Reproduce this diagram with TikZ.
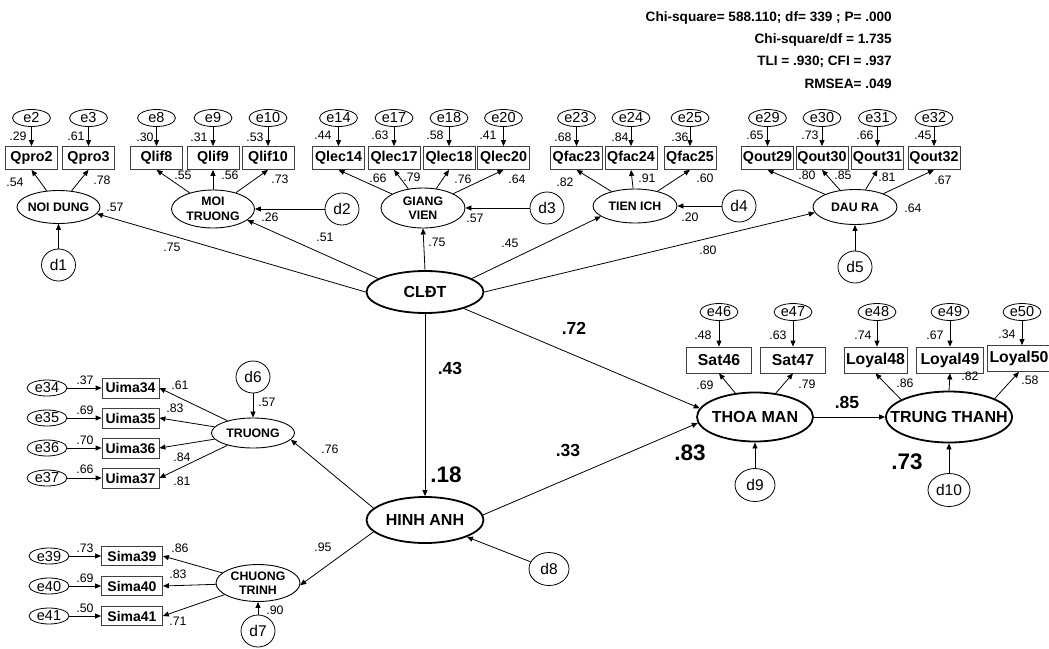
\documentclass[tikz,border=0pt]{standalone}
\usepackage{fontspec}
\setmainfont{Liberation Sans}
\usetikzlibrary{shapes.geometric,arrows.meta}
\newcommand{\fsz}[1]{\fontsize{#1}{#1}\selectfont}
\begin{document}
\begin{tikzpicture}[x=1pt,y=-1pt,
  con/.style={-{Triangle[length=6pt,width=5pt]},line width=0.8pt},
  evar/.style={ellipse,draw,line width=0.8pt,minimum width=38,minimum height=17,inner sep=0,font=\fsz{14.5}},
  dvar/.style={ellipse,draw,line width=0.8pt,minimum width=34,minimum height=32,inner sep=0,font=\fsz{15.5}},
  dvarw/.style={dvar,minimum width=40,minimum height=33},
  ind/.style={draw=black!75,line width=0.8pt,inner sep=0,font=\bfseries\fsz{14.3},minimum width=52,minimum height=23},
  uind/.style={ind,font=\bfseries\fsz{14},minimum width=57,minimum height=20},
  sind/.style={ind,font=\bfseries\fsz{14},minimum width=61,minimum height=19},
  rind/.style={ind,font=\bfseries\fsz{15.8},minimum width=65,minimum height=26},
  lat/.style={ellipse,draw,line width=0.9pt,inner sep=0},
  blat/.style={ellipse,draw,line width=1.8pt,inner sep=0},
  latlbl/.style={font=\bfseries\fontsize{12.3}{14.5}\selectfont,align=center,inner sep=0},
  blatlbl/.style={font=\bfseries\fsz{16},inner sep=0},
  num/.style={font=\fsz{12.3},inner sep=0},
  pcoef/.style={font=\bfseries\fsz{17.5},inner sep=0},
  rsq/.style={font=\bfseries\fsz{22.5},inner sep=0}]
\useasboundingbox (0,0) rectangle (1049,648);

% fit statistics
\node[anchor=north east,align=right,inner sep=0,font=\bfseries\fontsize{13.6}{22.4}\selectfont] (fit) at (892,11)
  {Chi-square= 588.110; df= 339 ; P= .000\\Chi-square/df = 1.735\\TLI = .930; CFI = .937\\RMSEA= .049};

% ---------- top first-order factors ----------
\node[lat,minimum width=83,minimum height=33,label={[latlbl]center:NOI DUNG}] (nd) at (58.5,207) {};
\node[lat,minimum width=83,minimum height=38,label={[latlbl]center:MOI\\TRUONG}] (moi) at (213,209) {};
\node[lat,minimum width=84,minimum height=40,label={[latlbl]center:GIANG\\VIEN}] (gv) at (423,208) {};
\node[lat,minimum width=84,minimum height=34,label={[latlbl]center:TIEN ICH}] (ti) at (635,206) {};
\node[lat,minimum width=84,minimum height=35,label={[latlbl]center:DAU RA}] (dr) at (855,207) {};

\foreach \n/\t/\x in {qpro2/Qpro2/31.5, qpro3/Qpro3/88.5, qlif8/Qlif8/156.5, qlif9/Qlif9/213, qlif10/Qlif10/268,
  qlec14/Qlec14/338.5, qlec17/Qlec17/394, qlec18/Qlec18/449, qlec20/Qlec20/503.5,
  qfac23/Qfac23/576.5, qfac24/Qfac24/631, qfac25/Qfac25/690,
  qout29/Qout29/767.5, qout30/Qout30/822, qout31/Qout31/877.5, qout32/Qout32/934}
  \node[ind] (\n) at (\x,158) {\t};

\foreach \n/\x in {e2/31.5, e3/88.5, e8/156.5, e9/213, e10/268, e14/338.5, e17/394, e18/449, e20/503.5,
  e23/576.5, e24/631, e25/690, e29/767.5, e30/822, e31/877.5, e32/934}
  \node[evar] (\n) at (\x,118) {\n};

\node[dvar] (d1) at (58.5,265) {d1};
\node[dvar] (d2) at (342,209) {d2};
\node[dvar] (d3) at (547,208) {d3};
\node[dvar] (d4) at (739,206) {d4};
\node[dvar] (d5) at (855,267) {d5};

% ---------- second-order and structural ----------
\node[blat,minimum width=117,minimum height=42,label={[blatlbl]center:CLĐT}] (cldt) at (425,292) {};
\node[blat,minimum width=117,minimum height=46,label={[blatlbl]center:HINH ANH}] (ha) at (425,520) {};
\node[blat,minimum width=116,minimum height=49,label={[blatlbl]center:THOA MAN}] (thoa) at (755,417) {};
\node[blat,minimum width=126,minimum height=51,label={[blatlbl]center:TRUNG THANH}] (tt) at (949,417) {};
\node[dvarw] (d8) at (549,569) {d8};
\node[dvarw] (d9) at (755,485) {d9};
\node[dvarw,minimum width=42] (d10) at (949,490) {d10};

% ---------- right indicators ----------
\node[rind] (sat46) at (719,360) {Sat46};
\node[rind] (sat47) at (793,360) {Sat47};
\node[rind,minimum width=63] (loyal48) at (875.5,360) {Loyal48};
\node[rind,minimum width=67] (loyal49) at (950,360) {Loyal49};
\node[rind,minimum width=64] (loyal50) at (1019,358.5) {Loyal50};
\foreach \n/\x in {e46/719, e47/793, e48/877, e49/950, e50/1022}
  \node[evar] (\n) at (\x,312) {\n};

% ---------- left second-level factors ----------
\node[lat,minimum width=83,minimum height=30,label={[latlbl]center:TRUONG}] (tr) at (253,433) {};
\node[lat,minimum width=84,minimum height=37,label={[latlbl]center:CHUONG\\TRINH}] (ct) at (258,583) {};
\node[dvar] (d6) at (253,377) {d6};
\node[dvar] (d7) at (258,631) {d7};
\foreach \n/\t/\y in {uima34/Uima34/388, uima35/Uima35/418, uima36/Uima36/448, uima37/Uima37/478}
  \node[uind] (\n) at (130.5,\y) {\t};
\foreach \n/\t/\y in {sima39/Sima39/556, sima40/Sima40/586, sima41/Sima41/616}
  \node[sind] (\n) at (132,\y) {\t};
\foreach \n/\y in {e34/388, e35/418, e36/448, e37/478}
  \node[evar,minimum width=40,minimum height=16] (\n) at (47,\y) {\n};
\foreach \n/\y in {e39/556, e40/586, e41/616}
  \node[evar,minimum width=40,minimum height=16] (\n) at (49,\y) {\n};

% ---------- connectors ----------
\foreach \e/\b in {e2/qpro2, e3/qpro3, e8/qlif8, e9/qlif9, e10/qlif10, e14/qlec14, e17/qlec17, e18/qlec18, e20/qlec20,
  e23/qfac23, e24/qfac24, e25/qfac25, e29/qout29, e30/qout30, e31/qout31, e32/qout32,
  e46/sat46, e47/sat47, e48/loyal48, e49/loyal49, e50/loyal50}
  \draw[con] (\e) -- (\e |- \b.north);
\foreach \l/\b in {nd/qpro2, nd/qpro3, moi/qlif8, moi/qlif9, moi/qlif10, gv/qlec14, gv/qlec17, gv/qlec18, gv/qlec20,
  ti/qfac23, ti/qfac24, ti/qfac25, dr/qout29, dr/qout30, dr/qout31, dr/qout32, thoa/sat46, thoa/sat47}
  \draw[con] (\l) -- (\b.south);
\draw[con] (tt.160) -- (loyal48.south);
\draw[con] (tt.north) -- (loyal49.south);
\draw[con] (tt.22) -- (loyal50.south);

\draw[con] (d1) -- (nd);
\draw[con] (d2) -- (moi);
\draw[con] (d3) -- (gv);
\draw[con] (d4) -- (ti);
\draw[con] (d5) -- (dr);
\draw[con] (d6) -- (tr);
\draw[con] (d7) -- (ct);
\draw[con] (d8) -- (ha.-22);
\draw[con] (d9) -- (thoa);
\draw[con] (d10) -- (tt);

\draw[con] (cldt.west) -- (nd.-10);
\draw[con] (cldt.164) -- (moi.-18);
\draw[con] (cldt.north) -- (gv.south);
\draw[con] (cldt.16) -- (ti.197);
\draw[con] (cldt.east) -- (dr.188);
\draw[con] (cldt.south) -- (ha.north);
\draw[con] (cldt.-23) -- (thoa.171);
\draw[con] (ha.5) -- (thoa.186);
\draw[con] (thoa.east) -- (tt.west);
\draw[con] (ha.167) -- (tr.-10);
\draw[con] (ha.193) -- (ct.-3);

\foreach \e/\b in {e34/uima34, e35/uima35, e36/uima36, e37/uima37, e39/sima39, e40/sima40, e41/sima41}
  \draw[con] (\e) -- (\e -| \b.west);
\foreach \b in {uima34, uima35, uima36, uima37}
  \draw[con] (tr) -- (\b.east);
\foreach \b in {sima39, sima40, sima41}
  \draw[con] (ct) -- (\b.east);

% ---------- coefficients ----------
\foreach \n/\x/\y/\t in {
  a1/18/136/.29, a2/76/136/.61, a3/145/137/.30, a4/199/137/.31, a5/255/137/.53,
  a6/323/135/.44, a7/380/135/.63, a8/435/135/.58, a9/488/135/.41,
  a10/563/137/.68, a11/620/137/.84, a12/680/137/.36,
  a13/755/135/.65, a14/810/135/.73, a15/865/135/.66, a16/923/135/.45,
  b1/15/182/.54, b2/102/180/.78, b3/183/175/.55, b4/230/175/.56, b5/280/179/.73,
  b6/378/178/.66, b7/412/177/.79, b8/463/179/.76, b9/517/179/.64,
  b10/565/182/.82, b11/647/178/.91, b12/705/178/.60,
  b13/807/175/.80, b14/843/175/.85, b15/887/177/.81, b16/943/180/.67,
  c1/115/207/.57, c2/270/217/.26, c3/475/218/.57, c4/690/217/.20, c5/913/208/.64,
  c6/172/247/.75, c7/325/237/.51, c8/437/242/.75, c9/510/243/.45, c10/708/250/.80,
  r1/703/335/.48, r2/778/335/.63, r3/863/335/.74, r4/935/335/.67, r5/1007/334/.34,
  r6/705/385/.69, r7/807/384/.79, r8/905/383/.86, r9/970/376/.82, r10/1030/380/.58,
  l1/85/380/.37, l2/85/410/.69, l3/85/440/.70, l4/85/469/.66,
  l5/180/385/.61, l6/175/408/.83, l7/182/457/.84, l8/182/481/.81, l9/267/402/.57, l10/330/449/.76,
  m1/85/548/.73, m2/85/578/.69, m3/85/608/.50,
  m4/180/548/.86, m5/178/574/.83, m6/178/621/.71, m7/275/610/.90, m8/323/547/.95}
  \node[num] (\n) at (\x,\y) {\t};

\node[pcoef] (p72) at (574,328) {.72};
\node[pcoef] (p43) at (450,368) {.43};
\node[pcoef] (p33) at (568,450) {.33};
\node[pcoef] (p85) at (847,402) {.85};
\node[rsq] (q18) at (446,475) {.18};
\node[rsq] (q83) at (690,453) {.83};
\node[rsq] (q73) at (907,462) {.73};
\end{tikzpicture}
\end{document}
